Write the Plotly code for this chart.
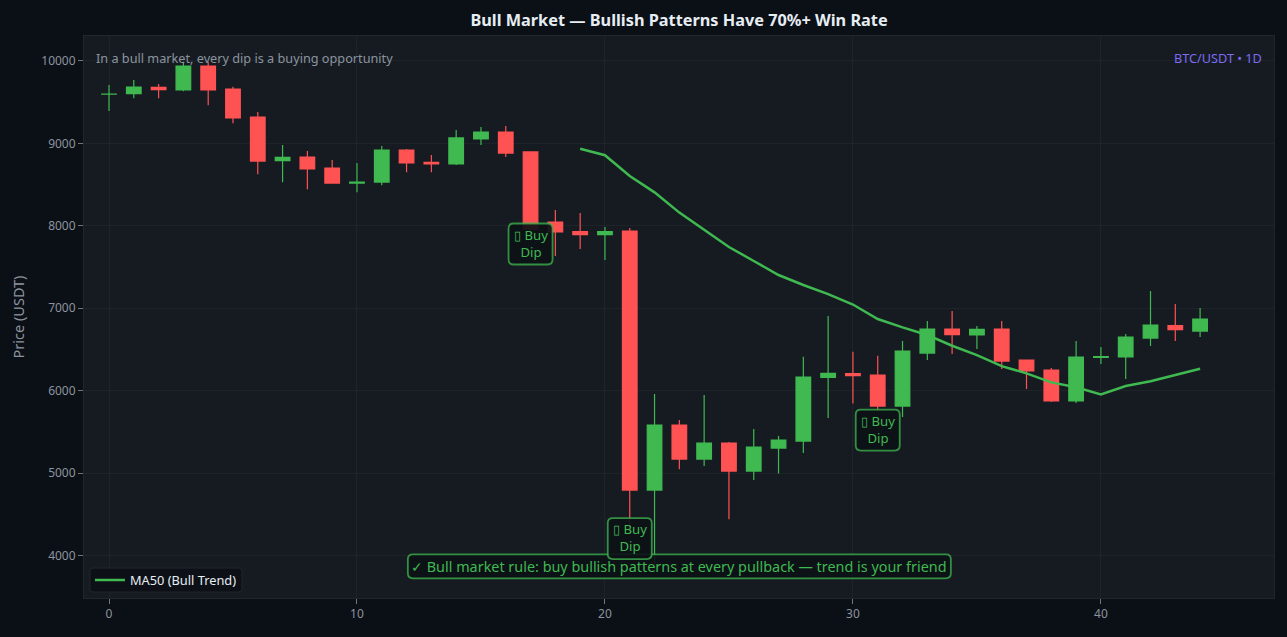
import plotly.graph_objects as go

# candles
idx = list(range(45))
opens = [9596, 9603, 9680, 9648, 9939, 9660, 9320, 8790, 8835, 8701, 8519, 8531, 8920, 8770, 8750,
         9053, 9138, 8896, 8046, 7930, 7893, 7937, 4794, 5583, 5170, 5364, 5024, 5303, 5388, 6160,
         6208, 6189, 5813, 6456, 6748, 6675, 6748, 6371, 6250, 5874, 6402, 6408, 6638, 6790, 6723]
closes = [9597, 9684, 9652, 9939, 9648, 9308, 8786, 8830, 8689, 8519, 8530, 8920, 8762, 8752, 9066,
          9138, 8883, 7960, 7925, 7893, 7930, 4794, 5583, 5170, 5364, 5024, 5316, 5400, 6165, 6210,
          6182, 5813, 6481, 6748, 6680, 6743, 6359, 6238, 5874, 6408, 6414, 6650, 6796, 6741, 6869]
highs = [9709, 9769, 9720, 9992, 9992, 9688, 9381, 8981, 8908, 8799, 8762, 8968, 8932, 8859, 9163,
         9199, 9211, 8896, 8192, 8155, 7985, 7973, 5959, 5643, 5947, 5376, 5534, 5449, 6411, 6905,
         6472, 6424, 6602, 6845, 6966, 6784, 6845, 6371, 6274, 6602, 6529, 6687, 7209, 7051, 7002]
lows = [9393, 9547, 9547, 9632, 9462, 9244, 8625, 8528, 8443, 8519, 8407, 8491, 8649, 8649, 8738,
        8981, 8835, 7900, 7633, 7718, 7585, 4300, 3786, 5045, 5085, 4438, 4915, 4996, 5243, 5667,
        5845, 5750, 5680, 6371, 6444, 6505, 6262, 6019, 5862, 5850, 6323, 6141, 6541, 6602, 6650]
ma50 = [None] * 19 + [8934, 8856, 8604, 8406, 8160, 7949, 7743, 7573, 7403, 7282, 7172, 7045, 6869,
                      6768, 6675, 6545, 6432, 6298, 6210, 6100, 6040, 5955, 6056, 6113, 6189, 6265]

dip_x = [17, 21, 31]
dip_y = [7779, 4205, 5522]
rule_x = 23
rule_y = 3868

GREEN = '#3fb950'
RED = '#ff5252'
BOX_BG = 'rgba(13,17,23,0.92)'
BOX_LINE = 'rgba(63,185,80,0.75)'


def round_box(x, y, w, h, r=5, xref='x', yref='y', fill=BOX_BG, line=BOX_LINE, lw=1.8):
    # rounded rectangle in pixels, anchored on a data point
    hw, hh = w / 2, h / 2
    path = (f'M {-hw + r} {-hh} L {hw - r} {-hh} Q {hw} {-hh} {hw} {-hh + r} '
            f'L {hw} {hh - r} Q {hw} {hh} {hw - r} {hh} '
            f'L {-hw + r} {hh} Q {-hw} {hh} {-hw} {hh - r} '
            f'L {-hw} {-hh + r} Q {-hw} {-hh} {-hw + r} {-hh} Z')
    return dict(type='path', xref=xref, yref=yref, xsizemode='pixel', ysizemode='pixel',
                xanchor=x, yanchor=y, path=path, layer='above', fillcolor=fill,
                line=dict(color=line, width=lw))


fig = go.Figure()
fig.add_trace(go.Candlestick(x=idx, open=opens, high=highs, low=lows, close=closes,
                             increasing=dict(line=dict(color=GREEN, width=1.2), fillcolor=GREEN),
                             decreasing=dict(line=dict(color=RED, width=1.2), fillcolor=RED),
                             showlegend=False, name='BTC/USDT'))
fig.add_trace(go.Scatter(x=idx, y=ma50, mode='lines', name='MA50 (Bull Trend)',
                         line=dict(color=GREEN, width=2.5)))

shapes = [round_box(rule_x, rule_y, 543, 24),
          # legend box, centred on 166,580 px of the page
          round_box(0.0689, 0.0320, 152, 24, r=3, xref='paper', yref='paper',
                    fill='#0d1117', line='#21262d', lw=1)]
annotations = [
    dict(x=rule_x, y=rule_y, text='✓ Bull market rule: buy bullish patterns at every pullback — trend is your friend',
         showarrow=False, font=dict(size=14.4, color=GREEN)),
    dict(xref='paper', yref='paper', x=0.0084, y=0.981, xanchor='left', yanchor='top', showarrow=False,
         text='In a bull market, every dip is a buying opportunity', font=dict(size=12.7, color='#8b949e')),
    dict(xref='paper', yref='paper', x=0.9917, y=0.981, xanchor='right', yanchor='top', showarrow=False,
         text='BTC/USDT • 1D', font=dict(size=12.7, color='#7c6cf0')),
]
for x, y in zip(dip_x, dip_y):
    shapes.append(round_box(x, y, 44, 41))
    annotations.append(dict(x=x, y=y, text='▯ Buy<br>Dip', showarrow=False, yshift=1,
                            font=dict(size=13.2, color=GREEN)))

axis = dict(showgrid=True, gridcolor='rgba(255,255,255,0.035)', gridwidth=1, zeroline=False,
            showline=True, linecolor='#21262d', mirror=True, ticks='outside', ticklen=5,
            tickcolor='#6e7681', tickfont=dict(size=12, color='#8b949e'))

fig.update_layout(
    width=1287, height=637,
    title=dict(text='<b>Bull Market — Bullish Patterns Have 70%+ Win Rate</b>', x=0.5276, xanchor='center',
               y=0.968, yanchor='middle', font=dict(size=16.3, color='#e6edf3')),
    font=dict(family='Noto Sans'),
    paper_bgcolor='#0b0f16', plot_bgcolor='#161b22',
    margin=dict(l=84, r=13, t=36, b=39),
    boxgap=0.41, boxgroupgap=0,
    shapes=shapes, annotations=annotations,
    legend=dict(x=0.005, y=0.005, xanchor='left', yanchor='bottom', bgcolor='rgba(0,0,0,0)',
                borderwidth=0, itemwidth=30, font=dict(size=12.8, color='#e6edf3')),
    xaxis=dict(axis, range=[-1.008, 46.98], tickvals=[0, 10, 20, 30, 40], rangeslider=dict(visible=False)),
    yaxis=dict(axis, range=[3484, 10303], tickvals=[4000, 5000, 6000, 7000, 8000, 9000, 10000],
               tickformat='d',
               title=dict(text='Price (USDT)', font=dict(size=14.5, color='#8b949e'), standoff=13)),
)

fig.write_html('out.html', config=dict(displayModeBar=False),
               post_script="document.body.style.margin='0';document.documentElement.style.overflow='hidden';")
